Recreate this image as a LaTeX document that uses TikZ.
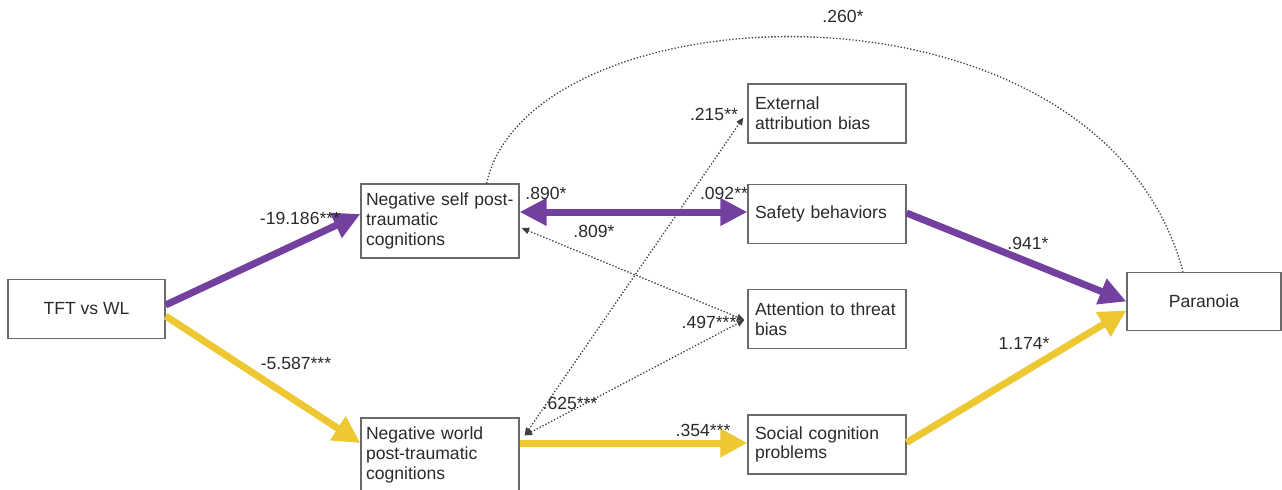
\documentclass[tikz,border=0pt]{standalone}
\usepackage{fontspec}
\setmainfont{Liberation Sans}
\usetikzlibrary{arrows.meta,calc}
\definecolor{pathpurple}{HTML}{7440A0}
\definecolor{pathyellow}{HTML}{EDC832}
\definecolor{boxgray}{HTML}{6A6A6A}
\definecolor{textgray}{HTML}{2A2A2A}
\definecolor{dotgray}{HTML}{404040}
\begin{document}
\begin{tikzpicture}[x=0.02cm, y=-0.02cm,
    box/.style={draw=boxgray, line width=0.7pt, text=textgray,
      font=\fontsize{10}{11.3}\selectfont, align=left,
      inner xsep=0.14cm, text width=2.88cm, minimum height=1.18cm},
    widebox/.style={box, inner xsep=0.1cm, text width=2.96cm, minimum height=1.48cm},
    centerbox/.style={draw=boxgray, line width=0.7pt, text=textgray,
      font=\fontsize{10}{11.3}\selectfont, align=center, minimum height=1.17cm},
    coef/.style={text=textgray, font=\fontsize{10}{12}\selectfont, inner sep=1pt},
    purplepath/.style={draw=pathpurple, line width=1.4mm,
      -{Triangle[length=5.4mm,width=5.2mm]}},
    yellowpath/.style={draw=pathyellow, line width=1.4mm,
      -{Triangle[length=5.4mm,width=5.4mm]}},
    weakpath/.style={draw=dotgray, line width=0.75pt, dash pattern=on 0.75pt off 1.1pt,
      {Triangle[length=1.5mm,width=1.3mm]}-{Triangle[length=1.5mm,width=1.3mm]}}]
    % 1. Page frame
    \useasboundingbox (0,0) rectangle (1282,490);

    % 2. Boxes
    \node[centerbox, minimum width=3.14cm] (tft) at (86.5,309) {TFT vs WL};
    \node[widebox] (self) at (440,221) {Negative self post-\\traumatic\\cognitions};
    \node[widebox] (world) at (440,455) {Negative world\\post-traumatic\\cognitions};
    \node[box] (ext) at (827,113.5) {External\\attribution bias};
    \node[box] (safety) at (827,214) {Safety behaviors};
    \node[box] (attn) at (827,319) {Attention to threat\\bias};
    \node[box] (social) at (827,444.5) {Social cognition\\problems};
    \node[centerbox, minimum width=3.08cm] (para) at (1204,301.5) {Paranoia};

    % 3. Dotted (weak) paths
    \draw[weakpath] ($(self.east)+(2,7)$) -- ($(attn.west)+(-3,1)$);
    \draw[weakpath] ($(world.north east)+(5,18)$) -- ($(ext.west)+(-4,4)$);
    \draw[weakpath] ($(world.north east)+(5,18)$) -- ($(attn.west)+(-3,1)$);
    \coordinate (arcstart) at ($(self.north east)+(-33,0)$);
    \coordinate (arcend) at ($(para.north)+(-21,0)$);
    \draw[draw=dotgray, line width=0.75pt, dash pattern=on 0.75pt off 1.1pt]
        (arcstart) .. controls (530,-14) and (1100,-38) .. (arcend);

    % 4. Thick paths
    \draw[purplepath] ($(tft.east)+(0,-4)$) -- ($(self.west)+(0,-7)$);
    \draw[yellowpath] ($(tft.east)+(0,7)$) -- ($(world.west)+(0,-12)$);
    \draw[purplepath, {Triangle[length=5.4mm,width=5.2mm]}-{Triangle[length=5.4mm,width=5.2mm]}]
        ($(self.east)+(0,-9)$) -- ($(safety.west)+(0,-2)$);
    \draw[purplepath] ($(safety.east)+(0,-1)$) -- ($(para.west)+(0,0)$);
    \draw[yellowpath] ($(social.east)+(0,-2)$) -- ($(para.west)+(0,9)$);
    \draw[yellowpath] ($(world.east)+(0,-12)$) -- ($(social.west)+(0,-1.5)$);

    % 5. Coefficients
    \node[coef] (k1) at (300,218) {-19.186***};
    \node[coef] (k2) at (296,363) {-5.587***};
    \node[coef] (k3) at (546,193) {.890*};
    \node[coef] (k4) at (594,231) {.809*};
    \node[coef] (k5) at (714,114) {.215**};
    \node[coef] (k6) at (724,193) {.092**};
    \node[coef] (k7) at (709,322) {.497***};
    \node[coef] (k8) at (570,403) {.625***};
    \node[coef] (k9) at (703,430) {.354***};
    \node[coef] (k10) at (1028,243) {.941*};
    \node[coef] (k11) at (1024,343) {1.174*};
    \node[coef] (k12) at (843,16) {.260*};
\end{tikzpicture}
\end{document}
